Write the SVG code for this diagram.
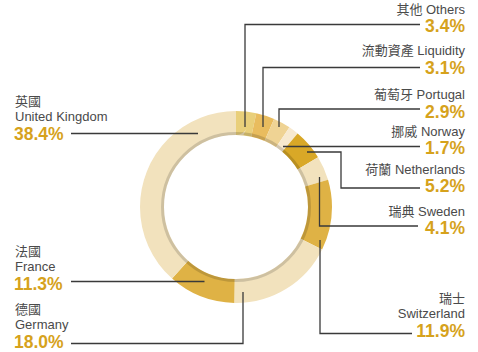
<svg xmlns="http://www.w3.org/2000/svg" width="478" height="352" viewBox="0 0 478 352">
<style>
.seg{fill:none;stroke-width:24;}
.lbl{font-family:"Liberation Sans",Arial,"Noto Sans CJK TC",sans-serif;font-size:13px;fill:#4a4a4a;}
.pct{font-family:"Liberation Sans",Arial,sans-serif;font-size:17.5px;font-weight:bold;fill:#d6a21c;}
.r{text-anchor:end;}
.ld{fill:none;stroke:#3a3a3a;stroke-width:1.3;}
</style>
<rect width="478" height="352" fill="#ffffff"/>
<g id="ring" transform="rotate(-90 236 207)">
<circle class="seg" cx="236" cy="207" r="84" pathLength="100" stroke="#e9cf7a" stroke-dasharray="3.4 96.6" stroke-dashoffset="0"/>
<circle class="seg" cx="236" cy="207" r="84" pathLength="100" stroke="#e9bc5e" stroke-dasharray="3.1 96.9" stroke-dashoffset="-3.4"/>
<circle class="seg" cx="236" cy="207" r="84" pathLength="100" stroke="#efd394" stroke-dasharray="2.9 97.1" stroke-dashoffset="-6.5"/>
<circle class="seg" cx="236" cy="207" r="84" pathLength="100" stroke="#f7e9cf" stroke-dasharray="1.7 98.3" stroke-dashoffset="-9.4"/>
<circle class="seg" cx="236" cy="207" r="84" pathLength="100" stroke="#d9a827" stroke-dasharray="5.2 94.8" stroke-dashoffset="-11.1"/>
<circle class="seg" cx="236" cy="207" r="84" pathLength="100" stroke="#f2e2bd" stroke-dasharray="4.1 95.9" stroke-dashoffset="-16.3"/>
<circle class="seg" cx="236" cy="207" r="84" pathLength="100" stroke="#dfb245" stroke-dasharray="11.9 88.1" stroke-dashoffset="-20.4"/>
<circle class="seg" cx="236" cy="207" r="84" pathLength="100" stroke="#f2e2bd" stroke-dasharray="18 82" stroke-dashoffset="-32.3"/>
<circle class="seg" cx="236" cy="207" r="84" pathLength="100" stroke="#dfb245" stroke-dasharray="11.3 88.7" stroke-dashoffset="-50.3"/>
<circle class="seg" cx="236" cy="207" r="84" pathLength="100" stroke="#f2e2bd" stroke-dasharray="38.4 61.6" stroke-dashoffset="-61.6"/>
<circle cx="236" cy="207" r="73.5" fill="none" stroke="#000" stroke-opacity="0.15" stroke-width="3"/>
</g>
<g id="connectors">
<polyline class="ld" points="245,127 245,24.5 420,24.5"/>
<polyline class="ld" points="263,127 263,67.5 420,67.5"/>
<polyline class="ld" points="279,127 279,109 420,109"/>
<polyline class="ld" points="283,146.5 420,146.5"/>
<polyline class="ld" points="307,152 341,152 341,188 420,188"/>
<polyline class="ld" points="319.5,177 319.5,226 418,226"/>
<polyline class="ld" points="320,240 320,333.5 412,333.5"/>
<polyline class="ld" points="71,133.5 198,133.5"/>
<polyline class="ld" points="71,281.5 204.5,281.5"/>
<polyline class="ld" points="71,343.5 243,343.5 243,292"/>
</g>
<g id="others"><text class="lbl r" x="465" y="14">其他 Others</text><text class="pct r" x="465" y="32">3.4%</text></g>
<g id="liquidity"><text class="lbl r" x="465" y="55">流動資產 Liquidity</text><text class="pct r" x="465" y="73.5">3.1%</text></g>
<g id="portugal"><text class="lbl r" x="465" y="98.5">葡萄牙 Portugal</text><text class="pct r" x="465" y="118">2.9%</text></g>
<g id="norway"><text class="lbl r" x="465" y="136">挪威 Norway</text><text class="pct r" x="465" y="154">1.7%</text></g>
<g id="netherlands"><text class="lbl r" x="465" y="174">荷蘭 Netherlands</text><text class="pct r" x="465" y="192">5.2%</text></g>
<g id="sweden"><text class="lbl r" x="465" y="215.5">瑞典 Sweden</text><text class="pct r" x="465" y="234">4.1%</text></g>
<g id="switzerland"><text class="lbl r" x="465" y="303">瑞士</text><text class="lbl r" x="465" y="318">Switzerland</text><text class="pct r" x="465" y="337">11.9%</text></g>
<g id="uk"><text class="lbl" x="15" y="105.5">英國</text><text class="lbl" x="15" y="121">United Kingdom</text><text class="pct" x="14" y="140">38.4%</text></g>
<g id="france"><text class="lbl" x="15" y="255.5">法國</text><text class="lbl" x="15" y="271">France</text><text class="pct" x="14" y="290">11.3%</text></g>
<g id="germany"><text class="lbl" x="15" y="314">德國</text><text class="lbl" x="15" y="329.3">Germany</text><text class="pct" x="14" y="348.3">18.0%</text></g>
</svg>
